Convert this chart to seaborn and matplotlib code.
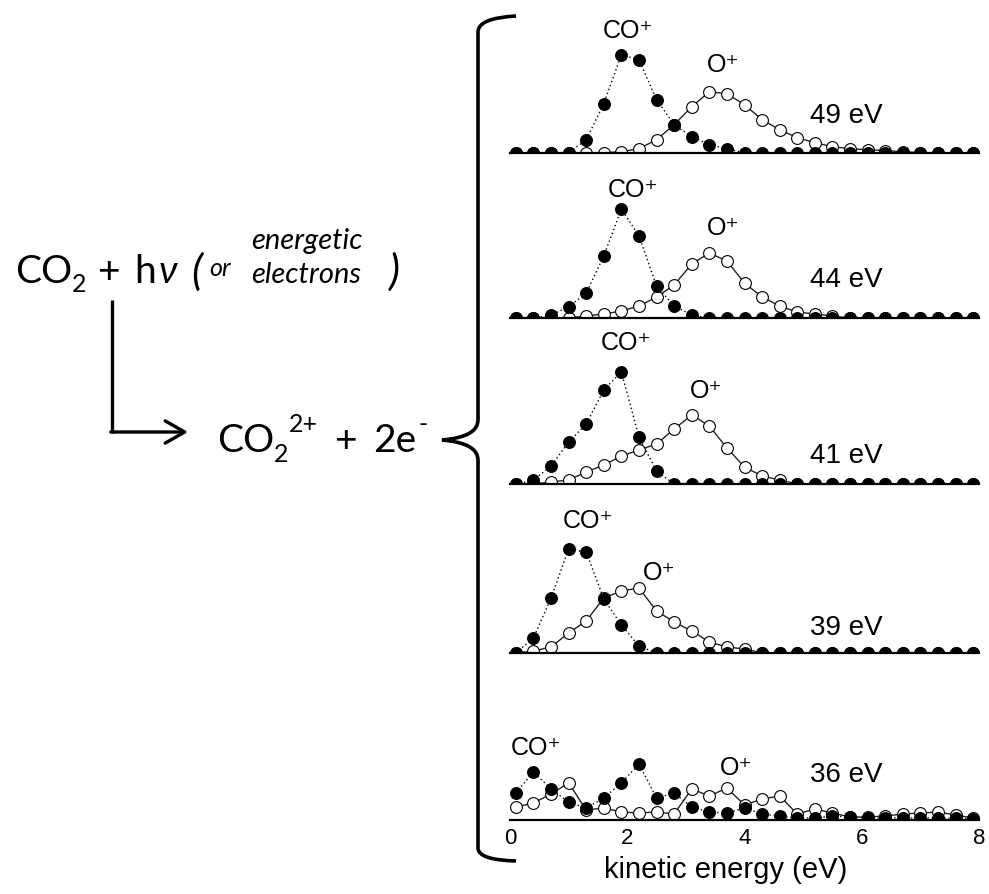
import numpy as np
import matplotlib
matplotlib.use("Agg")
import matplotlib.pyplot as plt
from matplotlib.path import Path
from matplotlib.patches import PathPatch
import seaborn as sns

# kinetic energy grid (eV), same for every spectrum
kinetic_energy = [0.1, 0.4, 0.7, 1.0, 1.3, 1.6, 1.9, 2.2, 2.5, 2.8, 3.1, 3.4, 3.7, 4.0,
                  4.3, 4.6, 4.9, 5.2, 5.5, 5.8, 6.1, 6.4, 6.7, 7.0, 7.3, 7.6, 7.9]

photon_labels = ["49 eV", "44 eV", "41 eV", "39 eV", "36 eV"]

# CO+ yields (arb. units)
co_49 = [0, 0, 0, 0, 13, 49, 98, 93, 53, 28, 16, 8, 4, 0, 0, 0, 0, 0, 0, 0, 0, 0, 0, 0, 0, 0, 0]
co_44 = [0, 0, 3, 11, 25, 62, 109, 82, 32, 12, 3, 0, 0, 0, 0, 0, 0, 0, 0, 0, 0, 0, 0, 0, 0, 0, 0]
co_41 = [0, 4, 18, 42, 60, 94, 112, 47, 13, 0, 0, 0, 0, 0, 0, 0, 0, 0, 0, 0, 0, 0, 0, 0, 0, 0, 0]
co_39 = [0, 15, 55, 104, 101, 54, 28, 7, 0, 0, 0, 0, 0, 0, 0, 0, 0, 0, 0, 0, 0, 0, 0, 0, 0, 0, 0]
co_36 = [27, 48, 31, 18, 12, 22, 37, 56, 22, 27, 13, 8, 7, 12, 6, 4, 2, 2, 4, 3, 2, 2, 2, 2, 2, 2, 1]

# O+ yields (arb. units)
o_49 = [0, 0, 0, 0, 0, 0, 1, 4, 13, 28, 46, 61, 59, 48, 33, 23, 15, 10, 6, 4, 3, 2, 1, 0, 0, 0, 0]
o_44 = [0, 0, 0, 0, 2, 4, 7, 12, 21, 33, 54, 65, 57, 35, 21, 12, 6, 4, 2, 0, 0, 0, 0, 0, 0, 0, 0]
o_41 = [0, 0, 2, 4, 12, 19, 28, 34, 40, 55, 69, 58, 36, 17, 8, 4, 0, 0, 0, 0, 0, 0, 0, 0, 0, 0, 0]
o_39 = [0, 2, 6, 20, 32, 55, 62, 65, 42, 31, 22, 11, 6, 4, 0, 0, 0, 0, 0, 0, 0, 0, 0, 0, 0, 0, 0]
o_36 = [13, 17, 26, 37, 10, 12, 8, 7, 8, 6, 31, 24, 32, 15, 21, 24, 6, 11, 7, 3, 3, 4, 6, 7, 8, 5, 2]

co_series = [co_49, co_44, co_41, co_39, co_36]
o_series = [o_49, o_44, o_41, o_39, o_36]

tick_values = [0, 1, 2, 3, 4, 5, 6, 7, 8]
tick_labels = ["0", "", "2", "", "4", "", "6", "", "8"]

sns.set_style("white")
plt.rcParams["font.family"] = ["Liberation Sans", "DejaVu Sans"]
plt.rcParams["text.color"] = "black"
plt.rcParams["axes.labelcolor"] = "black"
plt.rcParams["xtick.color"] = "black"

W, H = 989, 894
fig = plt.figure(figsize=(W / 100, H / 100), dpi=100)

# overlay in pixel coordinates for the reaction scheme and the brace
over = fig.add_axes([0, 0, 1, 1])
over.set_xlim(0, W)
over.set_ylim(H, 0)
over.axis("off")

lato = ["Lato", "DejaVu Sans"]
big, small = 28, 18
over.text(15, 283, "CO", fontsize=big, family=lato, va="baseline")
over.text(72, 292, "2", fontsize=small, family=lato, va="baseline")
over.text(98, 283, "+", fontsize=big, family=lato, va="baseline")
over.text(134, 283, "h", fontsize=big, family=lato, va="baseline")
over.text(159, 283, "ν", fontsize=big, family=lato, style="italic", va="baseline")
over.text(191, 285, "(", fontsize=31, family=lato, style="italic", va="baseline")
over.text(209, 276, "or", fontsize=18, family=lato, style="italic", va="baseline")
over.text(251, 249, "energetic", fontsize=21, family=lato, style="italic", va="baseline")
over.text(251, 283, "electrons", fontsize=21, family=lato, style="italic", va="baseline")
over.text(389, 285, ")", fontsize=31, family=lato, style="italic", va="baseline")

over.text(217, 452, "CO", fontsize=big, family=lato, va="baseline")
over.text(274, 462, "2", fontsize=small, family=lato, va="baseline")
over.text(289, 432, "2+", fontsize=small, family=lato, va="baseline")
over.text(335, 452, "+", fontsize=big, family=lato, va="baseline")
over.text(373, 452, "2e", fontsize=big, family=lato, va="baseline")
over.text(418, 432, "-", fontsize=small, family=lato, va="baseline")

over.plot([112, 112], [300, 433], color="black", lw=2.4, solid_capstyle="butt")
over.annotate("", xy=(188, 432), xytext=(110.8, 432),
              arrowprops=dict(arrowstyle="->,head_length=0.7,head_width=0.4",
                              lw=2.4, color="black", mutation_scale=20,
                              shrinkA=0, shrinkB=0))

brace = Path([(516, 16), (478, 18), (478, 32), (478, 420), (478, 437), (442, 440),
              (478, 443), (478, 460), (478, 848), (478, 860), (516, 861)],
             [Path.MOVETO, Path.CURVE3, Path.CURVE3, Path.LINETO, Path.CURVE3, Path.CURVE3,
              Path.CURVE3, Path.CURVE3, Path.LINETO, Path.CURVE3, Path.CURVE3])
over.add_patch(PathPatch(brace, facecolor="none", edgecolor="black", lw=2.6))

# spectra panels
axis_px = [152.7, 318, 484, 653, 820]
panel_h = 140
x0_px, x1_px = 510, 979

label_pos = [
    ((1.59, 115), (3.36, 81), (5.12, 30)),
    ((1.67, 121), (3.36, 83), (5.12, 31)),
    ((1.54, 134), (3.07, 86), (5.12, 21)),
    ((0.90, 125), (2.27, 73), (5.12, 18)),
    ((0.02, 65), (3.58, 45), (5.12, 38)),
]

for i in range(5):
    ax = fig.add_axes([x0_px / W, (H - axis_px[i]) / H, (x1_px - x0_px) / W, panel_h / H])
    sns.lineplot(x=kinetic_energy, y=o_series[i], ax=ax, sort=False, errorbar=None,
                 color="#222222", linestyle="-", linewidth=1.0, marker="o", markersize=8.5,
                 markerfacecolor="white", markeredgecolor="black", markeredgewidth=0.8)
    sns.lineplot(x=kinetic_energy, y=co_series[i], ax=ax, sort=False, errorbar=None,
                 color="black", linestyle=(0, (1, 2)), linewidth=1.0, marker="o", markersize=8.5,
                 markerfacecolor="black", markeredgecolor="black", markeredgewidth=0.8)
    ax.set_xlim(0, 8)
    ax.set_ylim(0, panel_h)
    ax.set_facecolor("none")
    for s in ["top", "left", "right"]:
        ax.spines[s].set_visible(False)
    ax.spines["bottom"].set_linewidth(1.6)
    ax.spines["bottom"].set_color("black")
    ax.set_yticks([])
    ax.set_xticks(tick_values)
    ax.tick_params(axis="x", direction="in", length=5, width=1.2, color="black", pad=6)
    if i == 4:
        ax.set_xticklabels(tick_labels, fontsize=16)
        ax.set_xlabel("kinetic energy (eV)", fontsize=21)
        ax.xaxis.set_label_coords(0.46, -0.26)
    else:
        ax.set_xticklabels([])
    ax.set_ylabel("")

    (cx, cy), (ox, oy), (ex, ey) = label_pos[i]
    ax.text(cx, cy, "CO⁺", fontsize=18, va="baseline")
    ax.text(ox, oy, "O⁺", fontsize=18, va="baseline")
    ax.text(ex, ey, photon_labels[i], fontsize=20, va="baseline")

fig.savefig("out.png", dpi=100)
